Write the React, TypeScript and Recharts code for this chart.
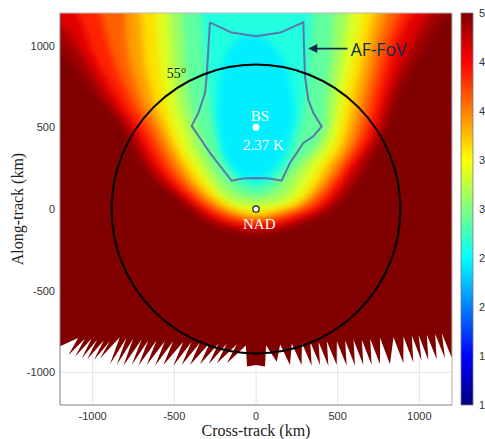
import React from 'react';
import {
  ComposedChart,
  BarChart,
  Area,
  Line,
  Bar,
  XAxis,
  YAxis,
  CartesianGrid,
  ReferenceDot,
  ReferenceLine,
} from 'recharts';

const W = 485;
const H = 439;
const PLOT_LEFT = 60;
const PLOT_RIGHT = 452;
const SPAN_KM = 2400;
const TOP = 1400; // field polygons run past the top edge and get clipped

const X_TICKS = [-1000, -500, 0, 500, 1000];
const Y_TICKS = [-1000, -500, 0, 500, 1000];
const CB_TICKS = [1, 1.5, 2, 2.5, 3, 3.5, 4, 4.5, 5];

// brightness temperature contours (K), lower boundary of "value < level" region
const C500_X = [-1400, -1200, -1000, -820, -690, -470, -325, -160, 0, 160, 350, 530, 680, 800, 880, 1000, 1170, 1400];
const C500_Y = [1250, 990, 720, 500, 260, 60, -66, -130, -150, -130, -66, 57, 260, 500, 720, 930, 1200, 1400];
const C475_X = [-1400, -1250, -1100, -935, -775, -640, -430, -280, -140, 0, 140, 290, 483, 628, 758, 830, 956, 1065, 1250];
const C475_Y = [1400, 1200, 1000, 720, 500, 260, 57, -55, -108, -123, -108, -58, 57, 260, 500, 720, 1000, 1200, 1400];
const C450_X = [-1400, -1100, -1000, -870, -730, -590, -390, -240, -120, 0, 120, 227, 435, 576, 716, 780, 863, 961, 1100];
const C450_Y = [1400, 1200, 960, 720, 500, 260, 57, -45, -85, -96, -85, -50, 57, 260, 500, 720, 1000, 1200, 1400];
const C425_X = [-1000, -950, -900, -805, -670, -537, -345, -195, 0, 190, 383, 536, 667, 734, 802, 880, 940];
const C425_Y = [1400, 1200, 1000, 750, 500, 259, 57, -35, -75, -38, 57, 259, 500, 750, 1000, 1200, 1400];
const C400_X = [-850, -800, -790, -730, -610, -484, -300, -150, 0, 150, 331, 496, 618, 680, 741, 800, 860];
const C400_Y = [1400, 1200, 1000, 750, 500, 259, 57, -25, -53, -25, 57, 259, 500, 750, 1000, 1200, 1400];
const C375_X = [-745, -705, -695, -650, -557, -435, -251, -125, 0, 125, 291, 444, 566, 620, 680, 728, 770];
const C375_Y = [1400, 1200, 1000, 750, 500, 259, 57, -10, -35, -10, 57, 259, 500, 750, 1000, 1200, 1400];
const C350_X = [-640, -610, -600, -570, -505, -386, -202, -100, 0, 100, 251, 392, 514, 560, 618, 655, 680];
const C350_Y = [1400, 1200, 1000, 750, 500, 259, 57, 5, -16, 5, 57, 259, 500, 750, 1000, 1200, 1400];
const C325_X = [-560, -532, -522, -495, -432, -320, -160, -60, 0, 60, 170, 316, 467, 500, 541, 568, 590];
const C325_Y = [1400, 1200, 1000, 750, 500, 259, 60, 35, 30, 35, 60, 259, 500, 750, 1000, 1200, 1400];
const C300_X = [-480, -455, -445, -420, -360, -255, -90, 0, 90, 240, 420, 440, 465, 480, 500];
const C300_Y = [1400, 1200, 1000, 750, 500, 259, 95, 75, 95, 259, 500, 750, 1000, 1200, 1400];
const C275_X = [-350, -335, -320, -290, -230, -140, 0, 140, 240, 300, 330, 345, 360];
const C275_Y = [1400, 1200, 1000, 700, 400, 220, 135, 220, 400, 700, 1000, 1200, 1400];
// the 2.5 K contour closes around the boresight
const C250_X = [-235, -210, -150, -60, 20, 110, 190, 235];
const C250_LO = [560, 380, 260, 190, 185, 250, 380, 560];
const C250_HI = [640, 860, 1000, 1060, 1060, 990, 860, 640];

// ragged lower edge of the swath (notches and tips, left to right)
const EDGE_X = [
  -1400, -1210,
  -1089, -1149, -1048, -1108, -1007, -1067, -973, -1033, -932, -992, -895, -955,
  -834, -894, -793, -853, -752, -812, -701, -761, -660, -720, -609, -669,
  -558, -618, -507, -567, -446, -506, -395, -455, -344, -404, -283, -343,
  -230, -290, -179, -239, -118, -178,
  -62, -55, 0, 55, 62,
  127, 148, 208, 219, 279, 281, 341, 332, 392, 383, 443, 434, 494, 495, 555,
  546, 606, 597, 657, 648, 708, 699, 759, 760, 820, 842, 902, 903, 963,
  954, 1014, 995, 1055, 1046, 1106, 1097, 1157, 1138, 1198,
  1250, 1400,
];
const EDGE_Y = [
  -845, -845,
  -790, -895, -795, -905, -795, -915, -800, -920, -805, -925, -810, -915,
  -785, -950, -790, -955, -795, -960, -800, -955, -805, -960, -805, -955,
  -810, -960, -810, -955, -815, -960, -815, -955, -820, -955, -820, -950,
  -825, -950, -825, -945, -830, -945,
  -835, -965, -955, -965, -835,
  -935, -830, -955, -825, -955, -820, -960, -815, -955, -815, -960, -810, -955, -810, -960,
  -805, -960, -800, -955, -800, -955, -795, -950, -790, -950, -785, -945, -780, -940,
  -775, -930, -770, -925, -770, -920, -765, -915, -760, -910,
  -760, -760,
];

// AF field of view outline
const FOV_X = [-282, -150, 0, 150, 290, 295, 300, 320, 351, 402, 351, 290, 208, 157, 80, 0, -80, -149, -282, -343, -394, -353, -312, -302, -292, -282];
const FOV_Y = [1143, 1080, 1058, 1080, 1143, 950, 812, 669, 588, 506, 445, 404, 282, 173, 186, 190, 186, 173, 343, 435, 509, 588, 710, 812, 975, 1143];

const SCAN_RADIUS_KM = 884;
const BS = { x: 0, y: 500, value: 2.37 };
const NADIR = { x: 0, y: 0 };

const jet = (v: number) => {
  const t = (v - 1) / 4;
  const c = (k: number) => Math.round(255 * Math.max(0, Math.min(1, 1.5 - Math.abs(4 * t - k))));
  return `rgb(${c(3)},${c(2)},${c(1)})`;
};

const lower = (xs: number[], ys: number[]) => xs.map((x, i) => ({ x, v: [ys[i], TOP] }));

const contours = [
  { level: 5.0, pts: lower(C500_X, C500_Y) },
  { level: 4.75, pts: lower(C475_X, C475_Y) },
  { level: 4.5, pts: lower(C450_X, C450_Y) },
  { level: 4.25, pts: lower(C425_X, C425_Y) },
  { level: 4.0, pts: lower(C400_X, C400_Y) },
  { level: 3.75, pts: lower(C375_X, C375_Y) },
  { level: 3.5, pts: lower(C350_X, C350_Y) },
  { level: 3.25, pts: lower(C325_X, C325_Y) },
  { level: 3.0, pts: lower(C300_X, C300_Y) },
  { level: 2.75, pts: lower(C275_X, C275_Y) },
  { level: 2.5, pts: C250_X.map((x, i) => ({ x, v: [C250_LO[i], C250_HI[i]] })) },
];

// each band is filled with the colour halfway to the next contour down
const bands = contours.map((c, i) => {
  const next = i + 1 < contours.length ? contours[i + 1].level : BS.value;
  return { ...c, fill: jet((c.level + next) / 2) };
});

const swath = lower(EDGE_X, EDGE_Y);
const fov = FOV_X.map((x, i) => ({ x, y: FOV_Y[i] }));
const cbData = [{ name: 'cb', range: [1, 5] }];

const pxPerKm = (PLOT_RIGHT - PLOT_LEFT) / SPAN_KM;

const serif = '"Liberation Serif", "DejaVu Serif", serif';
const sans = '"Liberation Sans", Arial, sans-serif';
const tickStyle = { fill: '#333', fontSize: 11, fontFamily: sans };

const textAt = (txt: string, style: React.SVGProps<SVGTextElement>) => (p: any) => (
  <text x={p.cx} y={p.cy} textAnchor="middle" dominantBaseline="central" {...style}>
    {txt}
  </text>
);

const arrowHead = (p: any) => (
  <polygon
    points={`${p.cx},${p.cy} ${p.cx + 9},${p.cy - 4.5} ${p.cx + 9},${p.cy + 4.5}`}
    fill="#0e2d4d"
  />
);

export default function App() {
  return (
    <div style={{ position: 'absolute', left: 0, top: 0, width: W, height: H, background: '#fff' }}>
      <style>{'.field-band .recharts-area-area{filter:url(#soft)}'}</style>
      <ComposedChart width={W} height={H} margin={{ top: 13, right: W - PLOT_RIGHT, bottom: 0, left: 0 }}>
        <defs>
          <filter id="soft" x="-20%" y="-20%" width="140%" height="140%">
            <feGaussianBlur stdDeviation="3.5" />
          </filter>
        </defs>
        <CartesianGrid stroke="#e4e4e4" />
        <XAxis
          type="number"
          dataKey="x"
          domain={[-1200, 1200]}
          ticks={X_TICKS}
          allowDataOverflow
          height={34}
          tickLine={false}
          tickSize={4}
          tickMargin={3}
          stroke="#8c8c8c"
          tick={tickStyle}
          label={() => (
            <text x={256} y={430} textAnchor="middle" dominantBaseline="central" fontFamily={serif} fontSize={16} fill="#222">
              Cross-track (km)
            </text>
          )}
        />
        <YAxis
          type="number"
          domain={[-1200, 1200]}
          ticks={Y_TICKS}
          allowDataOverflow
          width={PLOT_LEFT}
          tickLine={false}
          tickSize={2}
          tickMargin={3}
          stroke="#8c8c8c"
          tick={tickStyle}
          label={() => (
            <text
              x={17}
              y={209}
              transform="rotate(-90 17 209)"
              textAnchor="middle"
              dominantBaseline="central"
              fontFamily={serif}
              fontSize={16}
              fill="#222"
            >
              Along-track (km)
            </text>
          )}
        />
        <Area
          data={swath}
          dataKey="v"
          type="linear"
          fill={jet(5)}
          fillOpacity={1}
          stroke="none"
          isAnimationActive={false}
        />
        {bands.map((b) => (
          <Area
            key={b.level}
            className="field-band"
            data={b.pts}
            dataKey="v"
            type="monotone"
            fill={b.fill}
            fillOpacity={1}
            stroke="none"
            isAnimationActive={false}
          />
        ))}
        <ReferenceLine y={1200} stroke="#bdbdbd" />
        <ReferenceLine x={1200} stroke="#bdbdbd" />
        <ReferenceDot
          x={NADIR.x}
          y={NADIR.y}
          r={SCAN_RADIUS_KM * pxPerKm}
          fill="none"
          stroke="#000"
          strokeWidth={2}
        />
        <Line
          data={fov}
          dataKey="y"
          type="linear"
          stroke="#5a78ab"
          strokeWidth={2}
          dot={false}
          isAnimationActive={false}
        />
        <ReferenceLine
          segment={[{ x: 560, y: 982 }, { x: 330, y: 982 }]}
          stroke="#0e2d4d"
          strokeWidth={1.8}
        />
        <ReferenceDot x={320} y={982} r={1} shape={arrowHead} />
        <ReferenceDot
          x={750}
          y={982}
          r={1}
          shape={textAt('AF-FoV', { fontFamily: '"Open Sans", sans-serif', fontSize: 17.5, fill: '#0e2d4d' })}
        />
        <ReferenceDot x={-486} y={828} r={1} shape={textAt('55°', { fontFamily: serif, fontSize: 14, fill: '#111' })} />
        <ReferenceDot x={BS.x} y={BS.y} r={3.5} fill="#fff" stroke="none" />
        <ReferenceDot x={24} y={567} r={1} shape={textAt('BS', { fontFamily: serif, fontSize: 15, fill: '#fff' })} />
        <ReferenceDot
          x={45}
          y={394}
          r={1}
          shape={textAt(`${BS.value.toFixed(2)} K`, { fontFamily: serif, fontSize: 15, fill: '#fff' })}
        />
        <ReferenceDot x={NADIR.x} y={NADIR.y} r={3.2} fill="#fff" stroke="#222" strokeWidth={1.3} />
        <ReferenceDot x={20} y={-90} r={1} shape={textAt('NAD', { fontFamily: serif, fontSize: 15, fill: '#fff' })} />
      </ComposedChart>

      <div style={{ position: 'absolute', left: 455, top: 0 }}>
        <BarChart
          width={30}
          height={H}
          data={cbData}
          margin={{ top: 13, right: 0, bottom: 34, left: 6 }}
          barCategoryGap={0}
        >
          <defs>
            <linearGradient id="jetbar" x1="0" y1="1" x2="0" y2="0">
              {[0, 0.125, 0.375, 0.625, 0.875, 1].map((t) => (
                <stop key={t} offset={t} stopColor={jet(1 + 4 * t)} />
              ))}
            </linearGradient>
          </defs>
          <XAxis dataKey="name" hide />
          <YAxis
            orientation="right"
            type="number"
            domain={[1, 5]}
            ticks={CB_TICKS}
            width={12}
            tickLine={false}
            axisLine={false}
            tickSize={4}
            tickMargin={2}
            tick={tickStyle}
          />
          <Bar dataKey="range" fill="url(#jetbar)" stroke="#7a7a7a" strokeWidth={0.8} isAnimationActive={false} />
        </BarChart>
      </div>
    </div>
  );
}
